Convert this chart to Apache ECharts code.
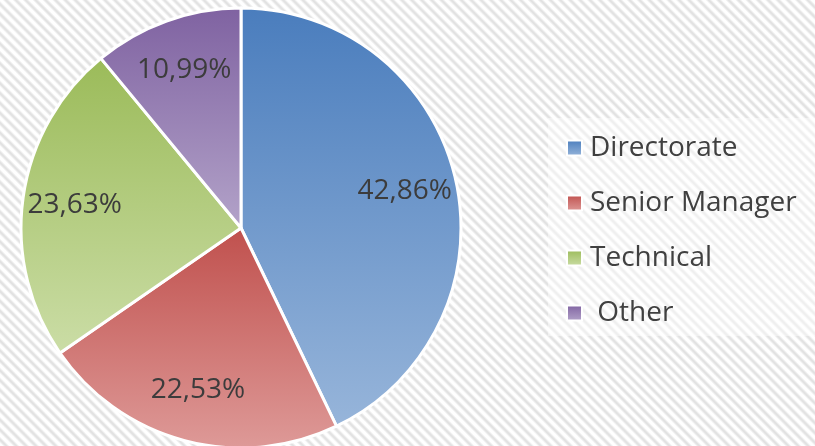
<!DOCTYPE html>
<html>
<head>
<meta charset="utf-8">
<script src="https://cdn.jsdelivr.net/npm/echarts@6/dist/echarts.min.js"></script>
<style>
html,body{margin:0;padding:0;width:815px;height:446px;overflow:hidden;}
body{background:repeating-linear-gradient(45deg,#ffffff 0px,#ffffff 2px,#e2e2e2 4px,#e2e2e2 5px,#ffffff 7px);}
#chart{width:815px;height:446px;}
</style>
</head>
<body>
<div id="chart"></div>
<script>
var categories = ['Directorate', 'Senior Manager', 'Technical', ' Other'];
var values = [42.86, 22.53, 23.63, 10.99];
var labels = ['42,86%', '22,53%', '23,63%', '10,99%'];
var topColors = ['#4a7dbd', '#c0504d', '#9bbb59', '#7f62a1'];
var bottomColors = ['#97b5da', '#de9a98', '#cbdda6', '#b3a3c9'];

function grad(i) {
  return new echarts.graphic.LinearGradient(0, 0, 0, 1, [
    {offset: 0, color: topColors[i]},
    {offset: 1, color: bottomColors[i]}
  ]);
}

var pieData = categories.map(function (c, i) {
  return {name: c, value: values[i], itemStyle: {color: grad(i)}};
});
var labelData = categories.map(function (c, i) {
  return {name: c, value: values[i], label: {formatter: labels[i]}};
});

var chart = echarts.init(document.getElementById('chart'));
chart.setOption({
  animation: false,
  backgroundColor: 'transparent',
  graphic: [{
    type: 'rect', left: 548, top: 118, z: -1,
    shape: {width: 267, height: 218},
    style: {fill: 'rgba(255,255,255,0.45)'}
  }],
  legend: {
    orient: 'vertical',
    left: 561,
    top: 127,
    data: categories,
    icon: 'rect',
    itemWidth: 15,
    itemHeight: 15,
    itemGap: 23,
    itemStyle: {borderColor: '#ffffff', borderWidth: 2},
    textStyle: {
      fontFamily: 'Open Sans',
      fontSize: 28,
      color: '#404040',
      lineHeight: 32,
      padding: [0, 0, 0, 3]
    },
    selectedMode: false
  },
  series: [{
    type: 'pie',
    center: [241, 228],
    radius: [0, 220],
    startAngle: 90,
    clockwise: true,
    silent: true,
    label: {show: false},
    labelLine: {show: false},
    itemStyle: {borderColor: '#ffffff', borderWidth: 3},
    data: pieData
  }, {
    type: 'pie',
    center: [241, 228],
    radius: [110, 220],
    startAngle: 90,
    clockwise: true,
    silent: true,
    itemStyle: {color: 'rgba(0,0,0,0)'},
    label: {
      show: true,
      position: 'inside',
      fontFamily: 'Open Sans',
      fontSize: 28,
      color: '#3c3c3c'
    },
    labelLine: {show: false},
    data: labelData
  }]
});
</script>
</body>
</html>
